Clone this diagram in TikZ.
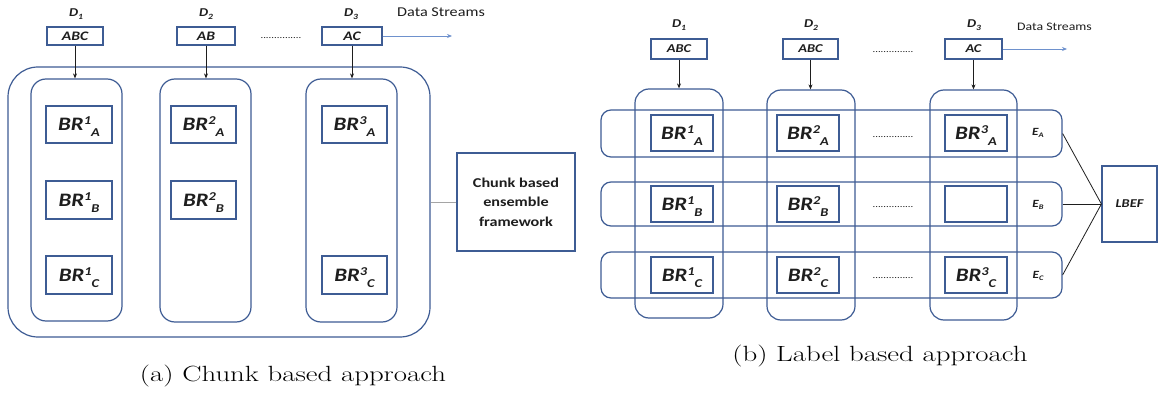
\documentclass[tikz,border=0pt]{standalone}
\usepackage{fontspec}
\newfontfamily\calf[FakeStretch=1.2]{Carlito}
\newfontfamily\capf[FakeStretch=1.31]{Latin Modern Roman}
\usetikzlibrary{fit,arrows.meta}
\definecolor{boxblue}{RGB}{62,92,148}
\definecolor{txt}{RGB}{30,30,30}
\definecolor{dsblue}{RGB}{110,145,205}
\definecolor{gline}{RGB}{165,165,165}
\newcommand\brl[2]{BR\raisebox{0.33em}{\fontsize{12}{12}\selectfont #1}\raisebox{-0.3em}{\fontsize{12}{12}\selectfont #2}}
\newcommand\dl[1]{D\raisebox{-0.25em}{\fontsize{8}{8}\selectfont #1}}
\newcommand\el[1]{E\raisebox{-0.25em}{\fontsize{7}{7}\selectfont #1}}
\newcommand\dotrow{...............}
\tikzset{
  bx/.style={draw=boxblue, line width=1.2pt, inner sep=0pt},
  rr/.style={draw=boxblue, line width=1.2pt, inner sep=0pt, rounded corners=15pt},
  toptxt/.style={inner sep=0pt, text=txt, font=\calf\bfseries\itshape\fontsize{13}{14}\selectfont},
  toptxtb/.style={inner sep=0pt, text=txt, font=\calf\bfseries\itshape\fontsize{12}{13}\selectfont},
  brtxt/.style={inner sep=0pt, text=txt, text height=13pt, text depth=0pt, font=\calf\bfseries\itshape\fontsize{19}{20}\selectfont},
  lab/.style={inner sep=0pt, text=txt, font=\calf\bfseries\itshape\fontsize{12}{13}\selectfont},
  elab/.style={inner sep=0pt, text=txt, font=\calf\bfseries\itshape\fontsize{11}{12}\selectfont},
  dotsty/.style={inner sep=0pt, text=txt, font=\calf\fontsize{9}{9}\selectfont},
  dsty/.style={inner sep=0pt, text=txt, anchor=west},
  arr/.style={draw=txt, line width=0.8pt, -{Stealth[length=5pt,width=4pt]}},
  dsarr/.style={draw=dsblue, line width=0.8pt, -{Stealth[length=5pt,width=4pt]}},
  grayline/.style={draw=gline, line width=0.8pt},
  blk/.style={draw=txt, line width=0.8pt},
  captext/.style={inner sep=0pt, anchor=base, font=\capf\fontsize{22}{26}\selectfont}
}
\begin{document}
\begin{tikzpicture}[x=1pt,y=-1pt]
\useasboundingbox[fill=white] (0,0) rectangle (1159,398);

% ---------------- (a) Chunk based approach ----------------
\node[lab] (d1a) at (76,14) {\dl{1}};
\node[lab] (d2a) at (206,14) {\dl{2}};
\node[lab] (d3a) at (351,14) {\dl{3}};
\node[bx, fit={(47,27)(103,45)}] (t1a) {};
\node[bx, fit={(177,27)(235,45)}] (t2a) {};
\node[bx, fit={(322,27)(382,45)}] (t3a) {};
\node[toptxt] (t1at) at (t1a.center) {ABC};
\node[toptxt] (t2at) at (t2a.center) {AB};
\node[toptxt] (t3at) at (t3a.center) {AC};
\node[dotsty] (dta) at (281,38) {\dotrow};
\node[dsty, font=\calf\fontsize{13.5}{14}\selectfont] (dsa) at (397,12) {Data Streams};
\coordinate (dsae) at (452,36);
\draw[dsarr] (t3a.east) -- (dsae);

\node[rr, rounded corners=30pt, fit={(8,67)(430,337)}] (outer) {};
\node[rr, fit={(31,79)(122,321)}] (c1a) {};
\node[rr, fit={(160,79)(251,322)}] (c2a) {};
\node[rr, fit={(306,79)(397,322)}] (c3a) {};
\draw[arr] (t1a.south) -- (t1a.south |- c1a.north);
\draw[arr] (t2a.south) -- (t2a.south |- c2a.north);
\draw[arr] (t3a.south) -- (t3a.south |- c3a.north);

\node[bx, fit={(46,106)(112,143)}] (b1aA) {};
\node[bx, fit={(46,181)(112,219)}] (b1aB) {};
\node[bx, fit={(46,256)(112,294)}] (b1aC) {};
\node[bx, fit={(171,106)(236,143)}] (b2aA) {};
\node[bx, fit={(171,181)(236,219)}] (b2aB) {};
\node[bx, fit={(322,106)(387,143)}] (b3aA) {};
\node[bx, fit={(322,256)(387,294)}] (b3aC) {};
\node[brtxt] (l1aA) at (b1aA.center) {\brl{1}{A}};
\node[brtxt] (l1aB) at (b1aB.center) {\brl{1}{B}};
\node[brtxt] (l1aC) at (b1aC.center) {\brl{1}{C}};
\node[brtxt] (l2aA) at (b2aA.center) {\brl{2}{A}};
\node[brtxt] (l2aB) at (b2aB.center) {\brl{2}{B}};
\node[brtxt] (l3aA) at (b3aA.center) {\brl{3}{A}};
\node[brtxt] (l3aC) at (b3aC.center) {\brl{3}{C}};

\node[bx, fit={(457,153)(575,251)}] (chunk) {};
\node[inner sep=0pt, text=txt, align=center, font=\calf\bfseries\fontsize{13.5}{19.5}\selectfont]
  (chunkt) at (chunk.center) {Chunk based\\ensemble\\framework};
\draw[grayline] (outer.east) -- (chunk.west);

\node[captext] (capa) at (293,381) {(a) Chunk based approach};

% ---------------- (b) Label based approach ----------------
\node[lab] (d1b) at (679,25) {\dl{1}};
\node[lab] (d2b) at (811,25) {\dl{2}};
\node[lab] (d3b) at (974,25) {\dl{3}};
\node[bx, fit={(651,39)(707,59)}] (t1b) {};
\node[bx, fit={(783,39)(838,59)}] (t2b) {};
\node[bx, fit={(945,39)(1002,59)}] (t3b) {};
\node[toptxtb] (t1bt) at (t1b.center) {ABC};
\node[toptxtb] (t2bt) at (t2b.center) {ABC};
\node[toptxtb] (t3bt) at (t3b.center) {AC};
\node[dotsty] (dtb) at (893,52) {\dotrow};
\node[dsty, font=\calf\fontsize{11.5}{12}\selectfont] (dsb) at (1017,27) {Data Streams};
\coordinate (dsbe) at (1067,49);
\draw[dsarr] (t3b.east) -- (dsbe);

\node[rr, rounded corners=14pt, fit={(635,89)(723,318)}] (c1b) {};
\node[rr, rounded corners=14pt, fit={(767,90)(855,320)}] (c2b) {};
\node[rr, rounded corners=14pt, fit={(930,90)(1017,320)}] (c3b) {};
\draw[arr] (t1b.south) -- (t1b.south |- c1b.north);
\draw[arr] (t2b.south) -- (t2b.south |- c2b.north);
\draw[arr] (t3b.south) -- (t3b.south |- c3b.north);

\node[rr, rounded corners=10pt, fit={(601,110)(1062,157)}] (rA) {};
\node[rr, rounded corners=10pt, fit={(601,182)(1062,226)}] (rB) {};
\node[rr, rounded corners=10pt, fit={(601,252)(1062,298)}] (rC) {};

\node[bx, fit={(651,115)(713,151)}] (b1bA) {};
\node[bx, fit={(651,186)(713,222)}] (b1bB) {};
\node[bx, fit={(651,257)(713,293)}] (b1bC) {};
\node[bx, fit={(777,115)(839,151)}] (b2bA) {};
\node[bx, fit={(777,186)(839,222)}] (b2bB) {};
\node[bx, fit={(777,257)(839,293)}] (b2bC) {};
\node[bx, fit={(945,115)(1007,151)}] (b3bA) {};
\node[bx, fit={(945,186)(1007,222)}] (b3bB) {};
\node[bx, fit={(945,257)(1007,293)}] (b3bC) {};
\node[brtxt] (l1bA) at (b1bA.center) {\brl{1}{A}};
\node[brtxt] (l1bB) at (b1bB.center) {\brl{1}{B}};
\node[brtxt] (l1bC) at (b1bC.center) {\brl{1}{C}};
\node[brtxt] (l2bA) at (b2bA.center) {\brl{2}{A}};
\node[brtxt] (l2bB) at (b2bB.center) {\brl{2}{B}};
\node[brtxt] (l2bC) at (b2bC.center) {\brl{2}{C}};
\node[brtxt] (l3bA) at (b3bA.center) {\brl{3}{A}};
\node[brtxt] (l3bC) at (b3bC.center) {\brl{3}{C}};

\node[dotsty] (drA) at (893,137) {\dotrow};
\node[dotsty] (drB) at (893,207) {\dotrow};
\node[dotsty] (drC) at (893,278) {\dotrow};

\node[elab] (eA) at (1038,133) {\el{A}};
\node[elab] (eB) at (1038,205) {\el{B}};
\node[elab] (eC) at (1038,276) {\el{C}};

\node[bx, fit={(1102,166)(1157,242)}] (lbef) {};
\node[toptxtb] (lbeft) at (lbef.center) {LBEF};
\draw[blk] (rA.east) -- (lbef.west);
\draw[blk] (rB.east) -- (lbef.west);
\draw[blk] (rC.east) -- (lbef.west);

\node[captext] (capb) at (880,361) {(b) Label based approach};
\end{tikzpicture}
\end{document}
